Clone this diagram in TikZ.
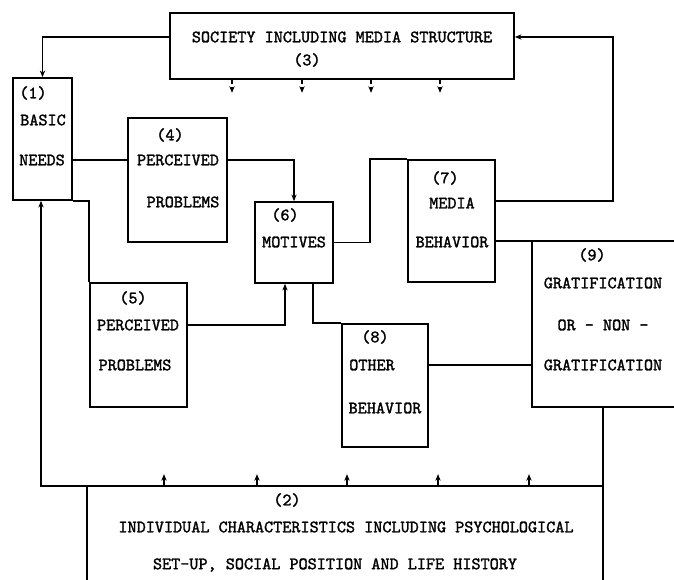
\documentclass[tikz,border=0pt]{standalone}
\usepackage{fontspec}
\newfontfamily\boxfont{lmmono10-regular.otf}[FakeBold=1.6]
\usetikzlibrary{arrows.meta,fit}
\begin{document}
\begin{tikzpicture}[x=0.75pt, y=-0.75pt, line width=1.3pt,
  >={Stealth[length=5pt,width=4pt]},
  box/.style={draw, rectangle, inner sep=0pt},
  openbox/.style={rectangle, inner sep=0pt},
  txt/.style={inner sep=0pt, font=\fontsize{13}{15}\selectfont\boxfont},
  tick/.style={->, line width=0.8pt}]
  \useasboundingbox (0,0) rectangle (674,580);
  % boxes
  \node[box, fit={(170,13) (514,79)}] (b3) {};
  \node[box, fit={(13,78) (72,200)}] (b1) {};
  \node[box, fit={(128,118) (227,242)}] (b4) {};
  \node[box, fit={(255,202) (333,283)}] (b6) {};
  \node[box, fit={(90,283) (187,407)}] (b5) {};
  \node[box, fit={(408,160) (495,282)}] (b7) {};
  \node[box, fit={(342,324) (428,447)}] (b8) {};
  \node[openbox, fit={(533,242) (674,406)}] (b9) {};
  \node[openbox, fit={(88,487) (602,580)}] (b2) {};
  \draw (b9.north east) -- (b9.north west) -- (b9.south west) -- (b9.south east);
  \draw (b2.north west) -- (b2.south west);
  \draw (b2.north east) -- (b2.south east);
  % texts
  \node[txt] (t3a) at (342,37) {SOCIETY INCLUDING MEDIA STRUCTURE};
  \node[txt] (t3b) at (307,60) {(3)};
  \node[txt] (t1a) at (33,93) {(1)};
  \node[txt] (t1b) at (43,120) {BASIC};
  \node[txt] (t1c) at (42,160) {NEEDS};
  \node[txt] (t4a) at (170,135) {(4)};
  \node[txt] (t4b) at (178,160) {PERCEIVED};
  \node[txt] (t4c) at (183,202) {PROBLEMS};
  \node[txt] (t6a) at (285,215) {(6)};
  \node[txt] (t6b) at (294,242) {MOTIVES};
  \node[txt] (t5a) at (133,298) {(5)};
  \node[txt] (t5b) at (138,325) {PERCEIVED};
  \node[txt] (t5c) at (135,365) {PROBLEMS};
  \node[txt] (t7a) at (445,178) {(7)};
  \node[txt] (t7b) at (452,203) {MEDIA};
  \node[txt] (t7c) at (452,242) {BEHAVIOR};
  \node[txt] (t8a) at (375,337) {(8)};
  \node[txt] (t8b) at (372,365) {OTHER};
  \node[txt] (t8c) at (385,408) {BEHAVIOR};
  \node[txt] (t9a) at (592,255) {(9)};
  \node[txt] (t9b) at (603,283) {GRATIFICATION};
  \node[txt] (t9c) at (603,325) {OR - NON -};
  \node[txt] (t9d) at (603,365) {GRATIFICATION};
  \node[txt] (t2a) at (287,500) {(2)};
  \node[txt] (t2b) at (346,527) {INDIVIDUAL CHARACTERISTICS INCLUDING PSYCHOLOGICAL};
  \node[txt] (t2c) at (335,565) {SET-UP, SOCIAL POSITION AND LIFE HISTORY};
  % connectors
  \coordinate (turn) at (613,37);
  \draw[->] (b3.west |- 0,37) -| (b1.north);
  \draw (b1.east |- 0,160) -- (b4.west |- 0,160);
  \draw[->] (b4.east |- 0,160) -| (b6.north);
  \draw (b1.south east) -| (b5.north west);
  \draw[->] (b5.east |- 0,325) -| (b6.south -| 285,0);
  \draw (b6.south -| 313,0) |- (b8.north west);
  \draw (b6.east) -| (b7.north west -| 370,0) -- (b7.north west);
  \draw[->] (b7.east |- 0,201) -| (turn) -- (b3.east |- turn);
  \draw (b7.east |- b9.north) -- (b9.north west);
  \draw (b8.east |- 0,365) -- (b9.west |- 0,365);
  \draw[->] (b9.south -| b2.east) -- (b2.north east) -- (b2.north west) -| (b1.south -| 41,0);
  % small arrows
  \foreach \x in {164,257,347,438,529}
    \draw[tick] (b2.north -| \x,0) -- ++(0,-12);
  \foreach \x in {232,302,371,440}
    \draw[tick, densely dashed] (b3.south -| \x,0) -- ++(0,13);
\end{tikzpicture}
\end{document}
